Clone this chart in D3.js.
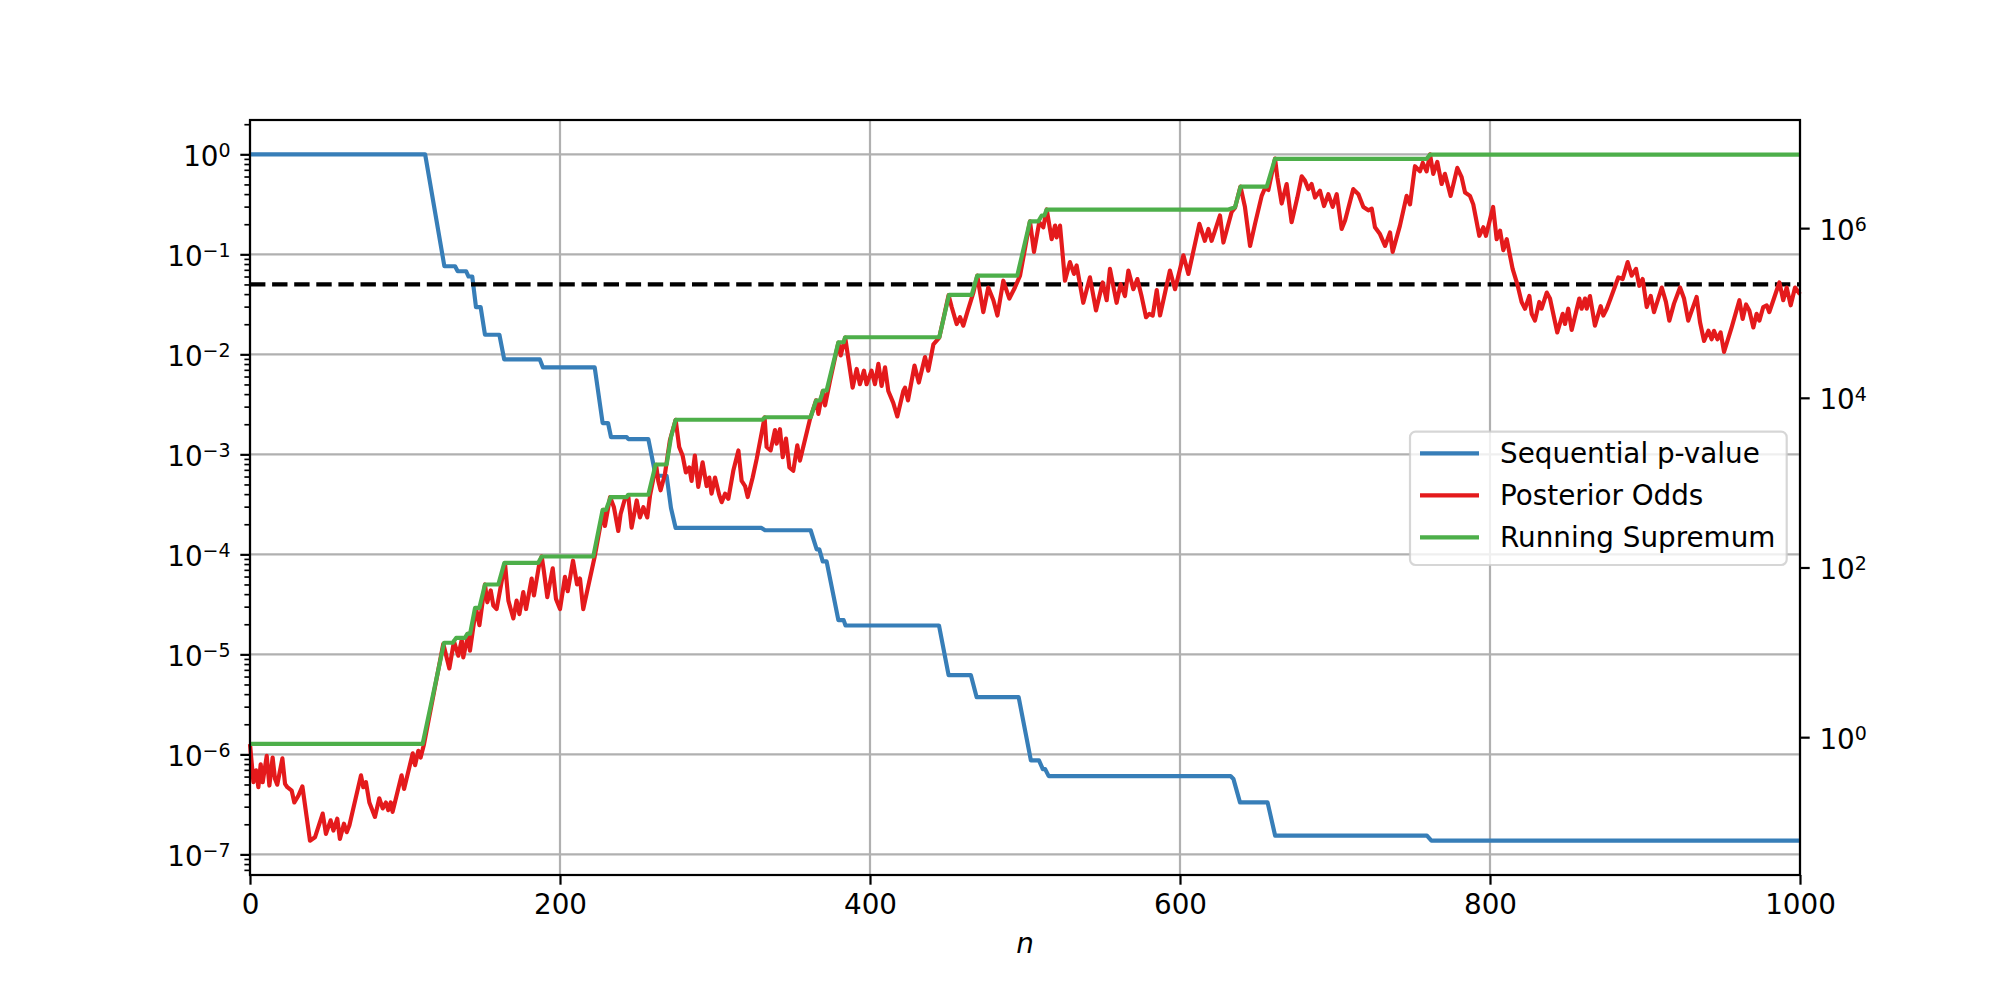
<!DOCTYPE html>
<html>
<head>
<meta charset="utf-8">
<script src="https://cdn.jsdelivr.net/npm/d3@7"></script>
<style>
body { margin: 0; background: #fff; }
svg text { font-family: "DejaVu Sans"; fill: #000; }
</style>
</head>
<body>
<div id="chart"></div>
<script>
// values: [n, log10(value)]
var oddsPoints = [
  [0,-0.08],[2.2,-0.53],[3.9,-0.39],[5.4,-0.59],[6.9,-0.32],[8.2,-0.53],[10.8,-0.22],[12.5,-0.57],[14.6,-0.24],[16.1,-0.49],
  [17.6,-0.56],[20.9,-0.25],[22.6,-0.55],[24.1,-0.59],[26.9,-0.63],[28.6,-0.77],[31.2,-0.69],[33.8,-0.58],[38.7,-1.22],[41.9,-1.18],
  [46.9,-0.90],[49,-1.14],[52,-0.98],[53.8,-1.10],[56.3,-0.96],[58,-1.20],[60.6,-1.02],[62.4,-1.12],[64.1,-1.04],[71.6,-0.45],
  [73.1,-0.59],[74.8,-0.53],[77,-0.77],[78.5,-0.84],[80.6,-0.94],[83.4,-0.72],[85.6,-0.84],[87.7,-0.77],[89.2,-0.86],[90.8,-0.77],
  [92,-0.88],[97.8,-0.45],[99.4,-0.61],[105,-0.19],[106.5,-0.33],[108.6,-0.16],[110.1,-0.24],[112.3,-0.08],
  [124.7,1.10],[128.6,0.81],[131.6,1.13],[134.4,0.96],[136.6,1.15],[137.6,0.94],[140.9,1.22],[141.9,1.02],[145.8,1.52],[148,1.32],
  [151.6,1.80],[153.1,1.59],[155.3,1.73],[157,1.55],[159.1,1.51],[164.5,2.05],[166.7,1.61],[168.2,1.51],[169.9,1.40],[172,1.61],
  [173.8,1.45],[176.3,1.71],[178.1,1.51],[181.7,1.87],[183.2,1.67],[186.7,2.05],[188.2,2.13],[189.5,1.97],[191.8,1.65],[195.3,1.99],
  [197.4,1.63],[200,1.51],[203.2,1.89],[205,1.72],[208.4,2.08],[211,1.80],[212.9,1.87],[215,1.51],[222.4,2.13],
  [227.9,2.68],[229,2.49],[232.3,2.83],[234.8,2.71],[237.6,2.43],[239.1,2.63],[241.9,2.81],[244,2.85],[246.2,2.47],[249.5,2.79],
  [251.6,2.59],[253.8,2.71],[256.3,2.59],[258.1,2.85],[262,3.21],[263.4,3.02],[264.9,2.91],[267.7,3.10],[270.9,3.50],[274.6,3.74],
  [276.9,3.42],[279.1,3.32],[281.2,3.12],[283.4,3.18],[284.9,3.02],[287,3.32],[289.2,2.95],[292,3.24],[294.6,2.96],[296.3,3.06],
  [297.8,2.87],[300,3.06],[302.8,2.85],[304.3,2.77],[306.5,2.87],[308.6,2.81],[311.8,3.14],[315.1,3.38],[317.2,3.02],[319.4,2.96],
  [321.1,2.83],[324.3,3.06],[326.9,3.28],[332,3.77],[333.3,3.42],[335.9,3.38],[338.7,3.62],[339.8,3.46],[341.9,3.63],[343.7,3.30],
  [345.8,3.52],[348,3.18],[350.5,3.14],[353.1,3.44],[354.8,3.26],[361.3,3.75],[365.2,3.97],[366.7,3.81],[369.5,4.08],[371,3.91],
  [374.2,4.20],[379.6,4.65],[381.1,4.50],[384,4.71],[388.8,4.12],[391.4,4.34],[393.5,4.16],[396.1,4.32],[397.8,4.16],[401,4.32],
  [403.2,4.16],[405.4,4.40],[407.5,4.14],[409.7,4.36],[411.8,4.08],[415,3.94],[417.6,3.78],[421.5,4.08],[422.6,4.12],[424.5,3.97],
  [428.7,4.38],[431.5,4.18],[435.5,4.48],[437.6,4.32],[440.9,4.63],[444.7,4.71],
  [450.7,5.21],[452.7,5.07],[455.9,4.87],[458.1,4.95],[460.2,4.85],[462.8,5.01],[466.7,5.24],[469.2,5.44],[473.1,5.01],[476.3,5.30],
  [479.6,5.15],[482.2,4.97],[486,5.38],[489.9,5.17],[493.5,5.30],[496.8,5.44],[503.2,6.08],[505.8,5.72],[509.2,6.07],[511.8,6.01],
  [514,6.22],[517.2,5.87],[519.4,6.03],[520.4,5.89],[522.6,6.03],[525.8,5.38],[529,5.60],[531.6,5.46],[533.3,5.56],[537.6,5.12],
  [541.9,5.42],[545.8,5.03],[550.1,5.36],[552.7,5.15],[554.8,5.52],[559.1,5.12],[561.7,5.34],[564.5,5.20],[566.7,5.50],[569.9,5.28],
  [572.5,5.40],[575.3,5.19],[578.1,4.95],[580.2,4.99],[582.4,4.97],[585,5.27],[587.1,4.97],[593.5,5.50],[596.8,5.28],[602.2,5.68],
  [605.4,5.46],[612.5,6.05],[616,5.85],[618.3,5.99],[620.4,5.85],[622.6,5.97],[625.8,6.15],[628,5.83],[633.3,6.19],[635.5,6.24],
  [639,6.49],[641.9,6.25],[645.2,5.79],[648.4,6.05],[652.7,6.38],[654.8,6.47],[657,6.45],[661.3,6.82],[662.8,6.60],[665.6,6.29],
  [668.8,6.52],[672,6.07],[675.7,6.36],[678.5,6.61],[680.6,6.56],[682.8,6.46],[684.9,6.52],[687.1,6.36],[690.3,6.44],[692.9,6.26],
  [695.7,6.40],[698.5,6.25],[701.1,6.40],[704.3,5.99],[706.5,6.09],[711.8,6.46],[715.1,6.40],[718.3,6.25],[721.5,6.21],[723.7,6.23],
  [725.8,6.01],[729,5.93],[732.3,5.79],[735.5,5.95],[737.2,5.72],[741.9,6.03],[746.2,6.38],[748.4,6.28],[751.6,6.73],[754.8,6.67],
  [756.6,6.77],[759.1,6.67],[761.3,6.87],[763.4,6.64],[766,6.78],[768.8,6.52],[770.9,6.64],[774.6,6.38],[778.9,6.71],[781.7,6.60],
  [783.9,6.42],[787.1,6.38],[789.2,6.28],[793.1,5.91],[795.7,6.01],[797.4,5.91],[802,6.25],[804.3,5.87],[806.5,5.97],[808.6,5.74],
  [810.8,5.87],[814.6,5.52],[817.6,5.34],[820.4,5.13],[822.6,5.05],[825.4,5.20],[826.9,4.99],[829,4.91],[831.8,5.13],[833.3,5.05],
  [836.6,5.24],[838.7,5.17],[843.4,4.77],[846.9,4.99],[848.4,4.87],[850.5,5.05],[852.7,4.80],[857.6,5.17],[859.1,5.05],[861.3,5.17],
  [862.4,5.05],[864.5,5.20],[867.7,4.85],[871.4,5.08],[873.1,4.97],[875.3,5.05],[877.8,5.17],[882.8,5.42],[885.6,5.40],[888.8,5.60],
  [891.4,5.44],[894.2,5.52],[896.3,5.32],[898.5,5.40],[901.1,5.07],[903.7,5.20],[905.8,5.01],[910.8,5.30],[913.5,5.13],[915.7,4.91],
  [918.7,5.11],[922.6,5.30],[925.2,5.17],[927.9,4.91],[933.3,5.19],[935.5,4.89],[938.1,4.67],[940.9,4.79],[943,4.69],[944.5,4.79],
  [946.7,4.69],[948.8,4.77],[951,4.54],[955.9,4.83],[960.9,5.15],[963,4.93],[965.2,5.10],[967.3,5.03],[969.9,4.83],[972,4.99],
  [973.8,4.91],[976.3,5.07],[978.5,5.09],[980.2,5.01],[982.8,5.15],[986.7,5.36],[989.2,5.15],[991.4,5.30],[994,5.09],[996.8,5.30],
  [1000,5.22]
];

var supPoints = [
  [0,-0.078],[111.4,-0.078],[125.2,1.113],[130.8,1.113],[133,1.171],[138.7,1.171],[140.2,1.219],[142,1.219],[145.2,1.525],[148,1.525],
  [151.6,1.80],[160.2,1.80],[164.1,2.055],[186,2.055],[188.2,2.13],[221.5,2.13],[227.5,2.68],[229.7,2.68],[232.7,2.83],[243,2.83],
  [244,2.857],[257,2.857],[261.7,3.214],[268.8,3.214],[271.6,3.536],[274.6,3.741],[330.5,3.741],[332.3,3.771],[361.7,3.771],[365.2,3.968],
  [367.7,3.968],[369.9,4.086],[372,4.086],[379.6,4.655],[383,4.655],[383.9,4.714],[444.7,4.714],[451,5.214],[465.6,5.214],[469.2,5.44],
  [495,5.44],[503.2,6.08],[508.6,6.08],[510.8,6.149],[512.5,6.149],[514,6.219],[631.2,6.219],[635.5,6.246],[639.1,6.49],[656,6.49],
  [661.3,6.817],[759.1,6.817],[761.3,6.867],[1000,6.867]
];

var pPoints = [
  [0,0],[113,0],[125.4,-1.119],[132.3,-1.119],[134,-1.169],[139.4,-1.169],[141,-1.222],[143.4,-1.222],[145.8,-1.528],[148.8,-1.528],
  [151.6,-1.804],[160.9,-1.804],[164,-2.051],[187,-2.051],[189,-2.131],[222.4,-2.131],[227.5,-2.687],[231,-2.687],[232.9,-2.827],[243,-2.827],
  [244,-2.847],[257,-2.847],[261.7,-3.214],[268.8,-3.214],[271.6,-3.536],[274.6,-3.736],[330,-3.736],[332.3,-3.759],[361.7,-3.759],[365.6,-3.95],
  [367.3,-3.95],[369.5,-4.07],[372,-4.07],[379.6,-4.658],[383,-4.658],[384.2,-4.711],[444.5,-4.711],[450.7,-5.208],[465.1,-5.208],[468.8,-5.428],
  [495.9,-5.428],[503.8,-6.06],[509,-6.06],[511.5,-6.147],[513,-6.147],[515.3,-6.217],[632.6,-6.217],[634.5,-6.247],[638.7,-6.48],[656.5,-6.48],
  [661.4,-6.813],[759.3,-6.813],[762.2,-6.863],[1000,-6.863]
];

var alphaLevel = 0.05;
var xTickValues = [0, 200, 400, 600, 800, 1000];
var leftTickExps = [0, -1, -2, -3, -4, -5, -6, -7];
var rightTickExps = [0, 2, 4, 6];
var seriesNames = ["Sequential p-value", "Posterior Odds", "Running Supremum"];
var seriesColors = ["#377eb8", "#e41a1c", "#4daf4a"];

var width = 2000, height = 1000;
var plotL = 250, plotR = 1800, plotT = 120, plotB = 875;
var fs = 27.8, lw = 4.17, axLw = 2.2;

var svg = d3.select("#chart").append("svg")
    .attr("width", width)
    .attr("height", height);

// log limits with a 5% margin, like matplotlib autoscale
function padded(exps) {
  var lo = d3.min(exps), hi = d3.max(exps), pad = (hi - lo) * 0.05;
  return [Math.pow(10, lo - pad), Math.pow(10, hi + pad)];
}

var x = d3.scaleLinear().domain([0, 1000]).range([plotL, plotR]);
var yL = d3.scaleLog()
    .domain(padded(pPoints.map(function(d){ return d[1]; }).concat([Math.log10(alphaLevel)])))
    .range([plotB, plotT]);
var yR = d3.scaleLog()
    .domain(padded(oddsPoints.concat(supPoints).map(function(d){ return d[1]; })))
    .range([plotB, plotT]);

// grid
var grid = svg.append("g").attr("stroke", "#b0b0b0").attr("stroke-width", axLw);
grid.selectAll(".vg").data(xTickValues).enter().append("line")
    .attr("x1", function(d){ return x(d); }).attr("x2", function(d){ return x(d); })
    .attr("y1", plotT).attr("y2", plotB);
grid.selectAll(".hg").data(leftTickExps).enter().append("line")
    .attr("x1", plotL).attr("x2", plotR)
    .attr("y1", function(d){ return yL(Math.pow(10, d)); })
    .attr("y2", function(d){ return yL(Math.pow(10, d)); });

var lineL = d3.line()
    .x(function(d){ return x(d[0]); })
    .y(function(d){ return yL(Math.pow(10, d[1])); });
var lineR = d3.line()
    .x(function(d){ return x(d[0]); })
    .y(function(d){ return yR(Math.pow(10, d[1])); });

svg.append("path").datum(pPoints)
    .attr("d", lineL)
    .attr("fill", "none").attr("stroke", seriesColors[0])
    .attr("stroke-width", lw).attr("stroke-linejoin", "round");

svg.append("line")
    .attr("x1", plotL).attr("x2", plotR)
    .attr("y1", yL(alphaLevel)).attr("y2", yL(alphaLevel))
    .attr("stroke", "#000").attr("stroke-width", lw)
    .attr("stroke-dasharray", "15.4,6.7");

svg.append("path").datum(oddsPoints)
    .attr("d", lineR)
    .attr("fill", "none").attr("stroke", seriesColors[1])
    .attr("stroke-width", lw).attr("stroke-linejoin", "round");

svg.append("path").datum(supPoints)
    .attr("d", lineR)
    .attr("fill", "none").attr("stroke", seriesColors[2])
    .attr("stroke-width", lw).attr("stroke-linejoin", "round");

// minor ticks on the left axis
var minorVals = [];
for (var k = -8; k <= 0; k++) {
  for (var m = 2; m <= 9; m++) {
    var v = m * Math.pow(10, k);
    if (v > yL.domain()[0] && v < yL.domain()[1]) minorVals.push(v);
  }
}

function styleAxis(g) {
  g.select(".domain").remove();
  g.selectAll(".tick line").attr("stroke", "#000").attr("stroke-width", axLw);
  g.selectAll("text").style("font-family", "DejaVu Sans").style("font-size", fs + "px");
}

var axMinor = svg.append("g")
    .attr("transform", "translate(" + plotL + ",0)")
    .call(d3.axisLeft(yL).tickValues(minorVals).tickSize(5.6).tickFormat(""));
axMinor.select(".domain").remove();
axMinor.selectAll(".tick line").attr("stroke", "#000").attr("stroke-width", 1.67);

function powLabel(sel, anchor, dx) {
  sel.selectAll(".tick").each(function(d) {
    var e = Math.round(Math.log10(d));
    var t = d3.select(this).append("text")
        .attr("x", dx).attr("y", 11)
        .attr("text-anchor", anchor)
        .style("font-family", "DejaVu Sans")
        .style("font-size", fs + "px")
        .attr("fill", "#000")
        .text("10");
    t.append("tspan")
        .attr("dy", -8.8)
        .style("font-size", "19px")
        .text(e < 0 ? "\u2212" + (-e) : String(e));
  });
}

var axL = svg.append("g")
    .attr("transform", "translate(" + plotL + ",0)")
    .call(d3.axisLeft(yL)
      .tickValues(leftTickExps.map(function(e){ return Math.pow(10, e); }))
      .tickSize(9.7).tickSizeOuter(0).tickFormat(""));
styleAxis(axL);
axL.selectAll("text").remove();
powLabel(axL, "end", -19.4);

var axR = svg.append("g")
    .attr("transform", "translate(" + plotR + ",0)")
    .call(d3.axisRight(yR)
      .tickValues(rightTickExps.map(function(e){ return Math.pow(10, e); }))
      .tickSize(9.7).tickSizeOuter(0).tickFormat(""));
styleAxis(axR);
axR.selectAll("text").remove();
powLabel(axR, "start", 19.4);

var axB = svg.append("g")
    .attr("transform", "translate(0," + plotB + ")")
    .call(d3.axisBottom(x).tickValues(xTickValues)
      .tickSize(9.7).tickPadding(9.7).tickSizeOuter(0)
      .tickFormat(d3.format("d")));
styleAxis(axB);
axB.selectAll("text").attr("fill", "#000");

// spines
svg.append("rect")
    .attr("x", plotL).attr("y", plotT)
    .attr("width", plotR - plotL).attr("height", plotB - plotT)
    .attr("fill", "none").attr("stroke", "#000").attr("stroke-width", axLw);

svg.append("text")
    .attr("x", (plotL + plotR) / 2).attr("y", 953)
    .attr("text-anchor", "middle")
    .style("font-size", fs + "px").style("font-style", "italic")
    .text("n");

// legend
var lg = svg.append("g").attr("transform", "translate(1410,431.7)");
lg.append("rect")
    .attr("width", 376.7).attr("height", 133.3)
    .attr("rx", 5.6).attr("ry", 5.6)
    .attr("fill", "#fff").attr("fill-opacity", 0.8)
    .attr("stroke", "#cccccc").attr("stroke-opacity", 0.8).attr("stroke-width", axLw);
var rows = lg.selectAll(".row").data(seriesNames).enter().append("g")
    .attr("transform", function(d, i){ return "translate(0," + (21.6 + i * 42) + ")"; });
rows.append("line")
    .attr("x1", 10).attr("x2", 69)
    .attr("stroke", function(d, i){ return seriesColors[i]; })
    .attr("stroke-width", lw);
rows.append("text")
    .attr("x", 90).attr("y", 10)
    .style("font-size", fs + "px")
    .text(function(d){ return d; });
</script>
</body>
</html>
